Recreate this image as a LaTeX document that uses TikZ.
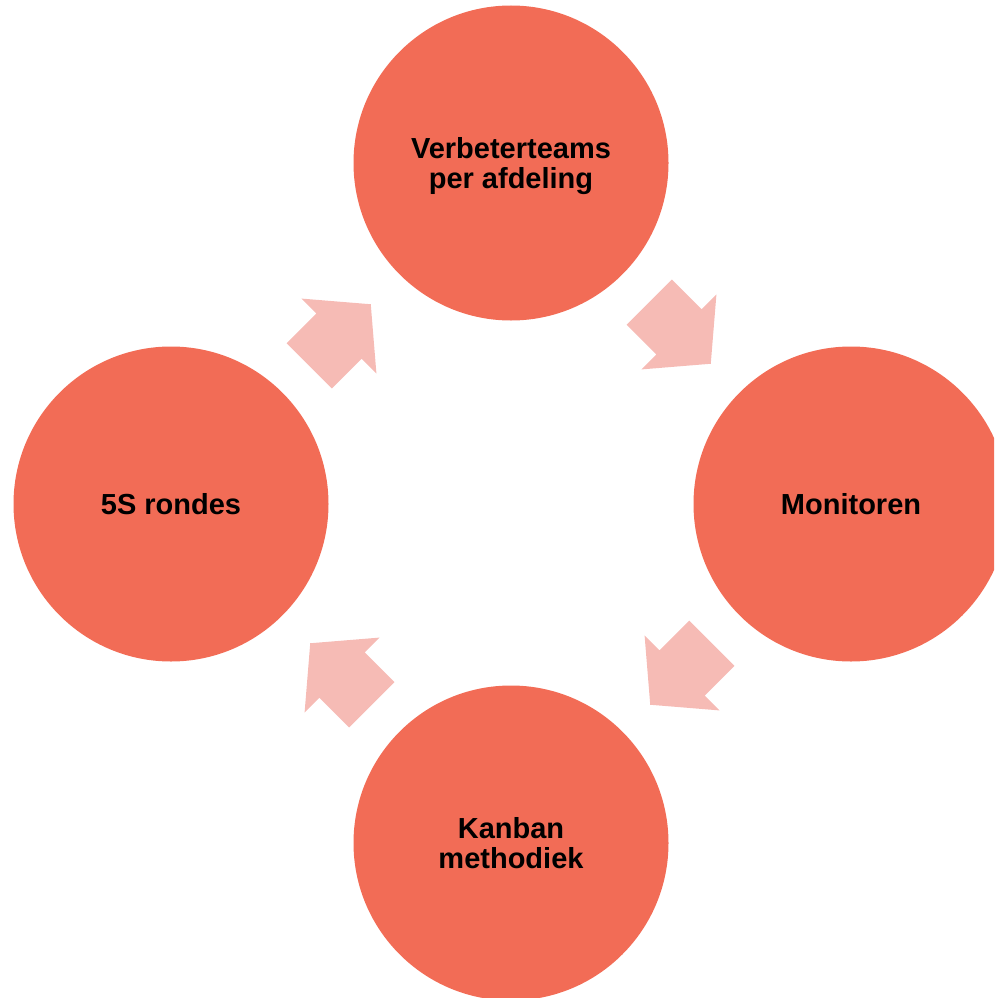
\documentclass[tikz,border=0pt]{standalone}
\usepackage{fontspec}
\setmainfont{Liberation Sans}
\definecolor{circfill}{RGB}{242,108,86}
\definecolor{arrfill}{RGB}{246,187,181}
\begin{document}
\begin{tikzpicture}[x=1pt,y=-1pt,
  stage/.style={circle,fill=circfill,draw=none,minimum size=315pt,inner sep=0pt,
    align=center,font=\fontsize{29}{30}\selectfont\bfseries,text=black,text depth=0pt},
  blockarrow/.style={fill=arrfill,draw=none}]
\useasboundingbox (0,0) rectangle (994,998);
\clip (0,0) rectangle (994,998);
\node[stage] (top) at (511,163) {Verbeterteams\\per afdeling};
\node[stage] (right) at (851,504) {Monitoren};
\node[stage] (bottom) at (511,843) {Kanban\\methodiek};
\node[stage] (left) at (171,504) {5S rondes};
\newcommand{\blockarr}[2]{%
  \begin{scope}[shift={#1},rotate=#2]
    \fill[blockarrow] (-43.5,32) -- (-1.5,32) -- (-1.5,53) -- (43.5,0) -- (-1.5,-53) -- (-1.5,-32) -- (-43.5,-32) -- cycle;
  \end{scope}}
\blockarr{(680,333)}{-45}
\blockarr{(681,674)}{-135}
\blockarr{(341,674)}{135}
\blockarr{(340,335)}{45}
\end{tikzpicture}
\end{document}
